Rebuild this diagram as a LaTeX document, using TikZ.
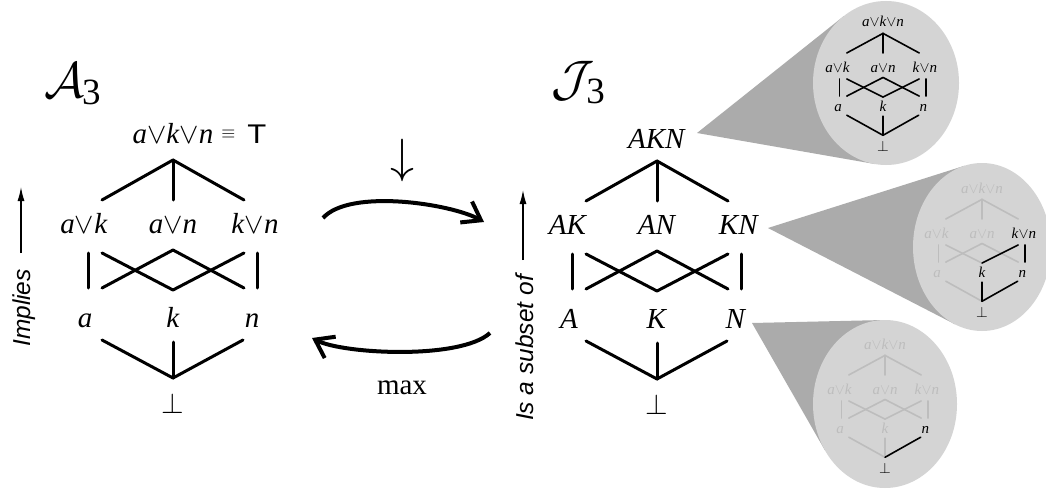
\RequirePackage{fix-cm}
\documentclass[tikz,border=0pt]{standalone}
\usepackage{fontspec}
\setmainfont{Liberation Serif}
\setsansfont{Liberation Sans}
\usetikzlibrary{arrows.meta}
\definecolor{wedgegray}{HTML}{ABABAB}
\definecolor{discgray}{HTML}{D4D4D4}
\definecolor{fadegray}{HTML}{BDBDBD}
\newcommand{\myor}{\ensuremath{\vee}}
\newcommand{\iv}[1]{\textit{#1}}
\newcommand{\conewedge}[6]{%
  \pgfmathsetmacro\cwU{(#1-#3)/#5}%
  \pgfmathsetmacro\cwV{(#2-#4)/#6}%
  \pgfmathsetmacro\cwR{sqrt(\cwU*\cwU+\cwV*\cwV)}%
  \pgfmathsetmacro\cwB{atan2(\cwV,\cwU)}%
  \pgfmathsetmacro\cwD{acos(1/\cwR)}%
  \pgfmathsetmacro\cwPx{#3+#5*cos(\cwB+\cwD)}%
  \pgfmathsetmacro\cwPy{#4+#6*sin(\cwB+\cwD)}%
  \pgfmathsetmacro\cwQx{#3+#5*cos(\cwB-\cwD)}%
  \pgfmathsetmacro\cwQy{#4+#6*sin(\cwB-\cwD)}%
  \fill[wedgefill] (#1,#2) -- (\cwPx,\cwPy) -- (#3,#4) -- (\cwQx,\cwQy) -- cycle;
  \fill[discfill] (#3,#4) ellipse [x radius=#5pt, y radius=#6pt];
}
% geometry parameters: \topy \midy \boty \bly \bjy \bty
\newcommand{\drawlattice}[3]{%
  \node[#1,eT] (#3T) at (0,\topy) {\LT};
  \node[#1,eAK] (#3AK) at (-89,\midy) {\LAK};
  \node[#1,eAN] (#3AN) at (0,\midy) {\LAN};
  \node[#1,eKN] (#3KN) at (82,\midy) {\LKN};
  \node[#1,eA] (#3A) at (-88,\boty) {\LA};
  \node[#1,eK] (#3K) at (0,\boty) {\LK};
  \node[#1,eN] (#3N) at (79,\boty) {\LN};
  \node[#1,eB] (#3B) at (0,\bty) {$\bot$};
  \coordinate (#3Tj) at (0,13);
  \coordinate (#3tAK) at (-71,53);
  \coordinate (#3tAN) at (0,53);
  \coordinate (#3tKN) at (71,53);
  \coordinate (#3vAKt) at (-85,106);
  \coordinate (#3vAKb) at (-85,141);
  \coordinate (#3vKNt) at (84,106);
  \coordinate (#3vKNb) at (84,141);
  \coordinate (#3cAKt) at (-71,106);
  \coordinate (#3cKNt) at (71,106);
  \coordinate (#3cANt) at (0,103);
  \coordinate (#3cKb) at (0,143);
  \coordinate (#3cAb) at (-71,141);
  \coordinate (#3cNb) at (71,141);
  \coordinate (#3bA) at (-71,\bly);
  \coordinate (#3bK) at (0,\bly+2);
  \coordinate (#3bN) at (70,\bly);
  \coordinate (#3Bj) at (0,\bjy);
  \draw[#2,eTAK] (#3Tj) -- (#3tAK);
  \draw[#2,eTAN] (#3Tj) -- (#3tAN);
  \draw[#2,eTKN] (#3Tj) -- (#3tKN);
  \draw[#2,eAKA] (#3vAKt) -- (#3vAKb);
  \draw[#2,eAKK] (#3cAKt) -- (#3cKb);
  \draw[#2,eANA] (#3cANt) -- (#3cAb);
  \draw[#2,eANN] (#3cANt) -- (#3cNb);
  \draw[#2,eKNK] (#3cKNt) -- (#3cKb);
  \draw[#2,eKNN] (#3vKNt) -- (#3vKNb);
  \draw[#2,eAB] (#3bA) -- (#3Bj);
  \draw[#2,eKB] (#3bK) -- (#3Bj);
  \draw[#2,eNB] (#3bN) -- (#3Bj);
}
\newcommand{\biggeom}{\def\midy{86}\def\boty{180}\def\bly{193}\def\bjy{231}\def\bty{266}}
\newcommand{\minigeom}{\def\topy{0}\def\midy{92}\def\boty{173}\def\bly{180}\def\bjy{221}\def\bty{255}%
  \def\LT{\iv{a}\myor\iv{k}\myor\iv{n}}%
  \def\LAK{\iv{a}\myor\iv{k}}\def\LAN{\iv{a}\myor\iv{n}}\def\LKN{\iv{k}\myor\iv{n}}%
  \def\LA{\iv{a}}\def\LK{\iv{k}}\def\LN{\iv{n}}}
\begin{document}
\begin{tikzpicture}[x=1pt,y=-1pt,
  lab/.style={font=\fontsize{29}{34}\selectfont, inner sep=0pt, anchor=base},
  mlab/.style={font=\fontsize{15}{18}\selectfont, inner sep=0pt, anchor=base},
  edge/.style={line width=3pt, line cap=round, line join=round},
  medge/.style={line width=1.6pt, line cap=round},
  hl/.style={color=black},
  fd/.style={color=fadegray},
  edef/.style={},
  eT/.style={edef}, eAK/.style={edef}, eAN/.style={edef}, eKN/.style={edef},
  eA/.style={edef}, eK/.style={edef}, eN/.style={edef}, eB/.style={edef},
  eTAK/.style={edef}, eTAN/.style={edef}, eTKN/.style={edef},
  eAKA/.style={edef}, eAKK/.style={edef}, eANA/.style={edef}, eANN/.style={edef},
  eKNK/.style={edef}, eKNN/.style={edef},
  eAB/.style={edef}, eKB/.style={edef}, eNB/.style={edef},
  wedgefill/.style={fill=wedgegray},
  discfill/.style={fill=discgray},
  sidelab/.style={font=\sffamily\itshape\fontsize{24.5}{28}\selectfont, inner sep=0pt, rotate=90, anchor=base},
  sidearrow/.style={line width=1.3pt, -{Latex[length=14pt,width=7pt]}},
  bigarrow/.style={line width=4pt, -{Straight Barb[length=17pt,width=24pt]}},
  title/.style={inner sep=0pt, anchor=base west}
]
\useasboundingbox (0,0) rectangle (1046,492);
\fill[white] (0,0) rectangle (1046,492);

% titles
\node[title] (A3) at (44,98) {{\fontsize{50}{55}\selectfont$\mathcal{A}$}\kern-2pt\raisebox{-7pt}{\fontsize{37}{40}\selectfont 3}};
\node[title] (J3) at (551,96) {{\fontsize{50}{55}\selectfont$\mathcal{J}$}\kern-8pt\raisebox{-7pt}{\fontsize{37}{40}\selectfont 3}};

% left lattice
\begin{scope}[shift={(173,147)}]
  \biggeom\def\topy{-4}
  \def\LT{\iv{a}\myor\iv{k}\myor\iv{n}\rlap{\hspace{8pt}\raisebox{5pt}{\fontsize{18}{18}\selectfont$\equiv$}\hspace{12pt}\scalebox{1.15}[1]{\sffamily\fontsize{27}{30}\selectfont T}}}
  \def\LAK{\iv{a}\myor\iv{k}}\def\LAN{\iv{a}\myor\iv{n}}\def\LKN{\iv{k}\myor\iv{n}}
  \def\LA{\iv{a}}\def\LK{\iv{k}}\def\LN{\iv{n}}
  \drawlattice{lab}{edge}{L}
\end{scope}

% right lattice
\begin{scope}[shift={(657,148)}]
  \biggeom\def\topy{0}
  \def\LT{\iv{AKN}}
  \def\LAK{\iv{AK}}\def\LAN{\iv{AN}}\def\LKN{\iv{KN}}
  \def\LA{\iv{A}}\def\LK{\iv{K}}\def\LN{\iv{N}}
  \drawlattice{lab}{edge}{R}
\end{scope}

% side labels
\node[sidelab] (imp) at (30,308) {Implies};
\coordinate (impS) at (21,253);
\coordinate (impE) at (21,187);
\draw[sidearrow] (impS) -- (impE);
\node[sidelab] (sub) at (533,348) {Is a subset of};
\coordinate (subS) at (523,260);
\coordinate (subE) at (523,190);
\draw[sidearrow] (subS) -- (subE);

% middle maps
\node[inner sep=0pt, font=\fontsize{48}{50}\selectfont] (down) at (402,160) {$\downarrow$};
\coordinate (upL) at (323,218);
\coordinate (upR) at (484,222);
\draw[bigarrow] (upL) .. controls (350,188) and (452,204) .. (upR);
\coordinate (loR) at (490,333);
\coordinate (loL) at (312,338);
\draw[bigarrow] (loR) .. controls (460,360) and (343,354) .. (loL);
\node[lab] (maxl) at (402,394) {max};

% cones and discs
\conewedge{697}{133}{886}{83}{73}{82}
\conewedge{768}{228}{982}{247}{69}{84}
\conewedge{752}{323}{885}{404}{72}{84}

% mini lattices
\begin{scope}[shift={(883,27)}, xscale=0.51, yscale=0.49]
  \minigeom
  \drawlattice{mlab}{medge}{Ma}
\end{scope}
\begin{scope}[shift={(982,193)}, xscale=0.51, yscale=0.49,
  edef/.style={fd}, eKN/.style={hl}, eK/.style={hl}, eN/.style={hl}, eB/.style={hl},
  eKNK/.style={hl}, eKNN/.style={hl}, eKB/.style={hl}, eNB/.style={hl}]
  \minigeom
  \drawlattice{mlab}{medge}{Mb}
\end{scope}
\begin{scope}[shift={(885,349)}, xscale=0.51, yscale=0.49,
  edef/.style={fd}, eN/.style={hl}, eB/.style={hl}, eNB/.style={hl}]
  \minigeom
  \drawlattice{mlab}{medge}{Mc}
\end{scope}
\end{tikzpicture}
\end{document}
